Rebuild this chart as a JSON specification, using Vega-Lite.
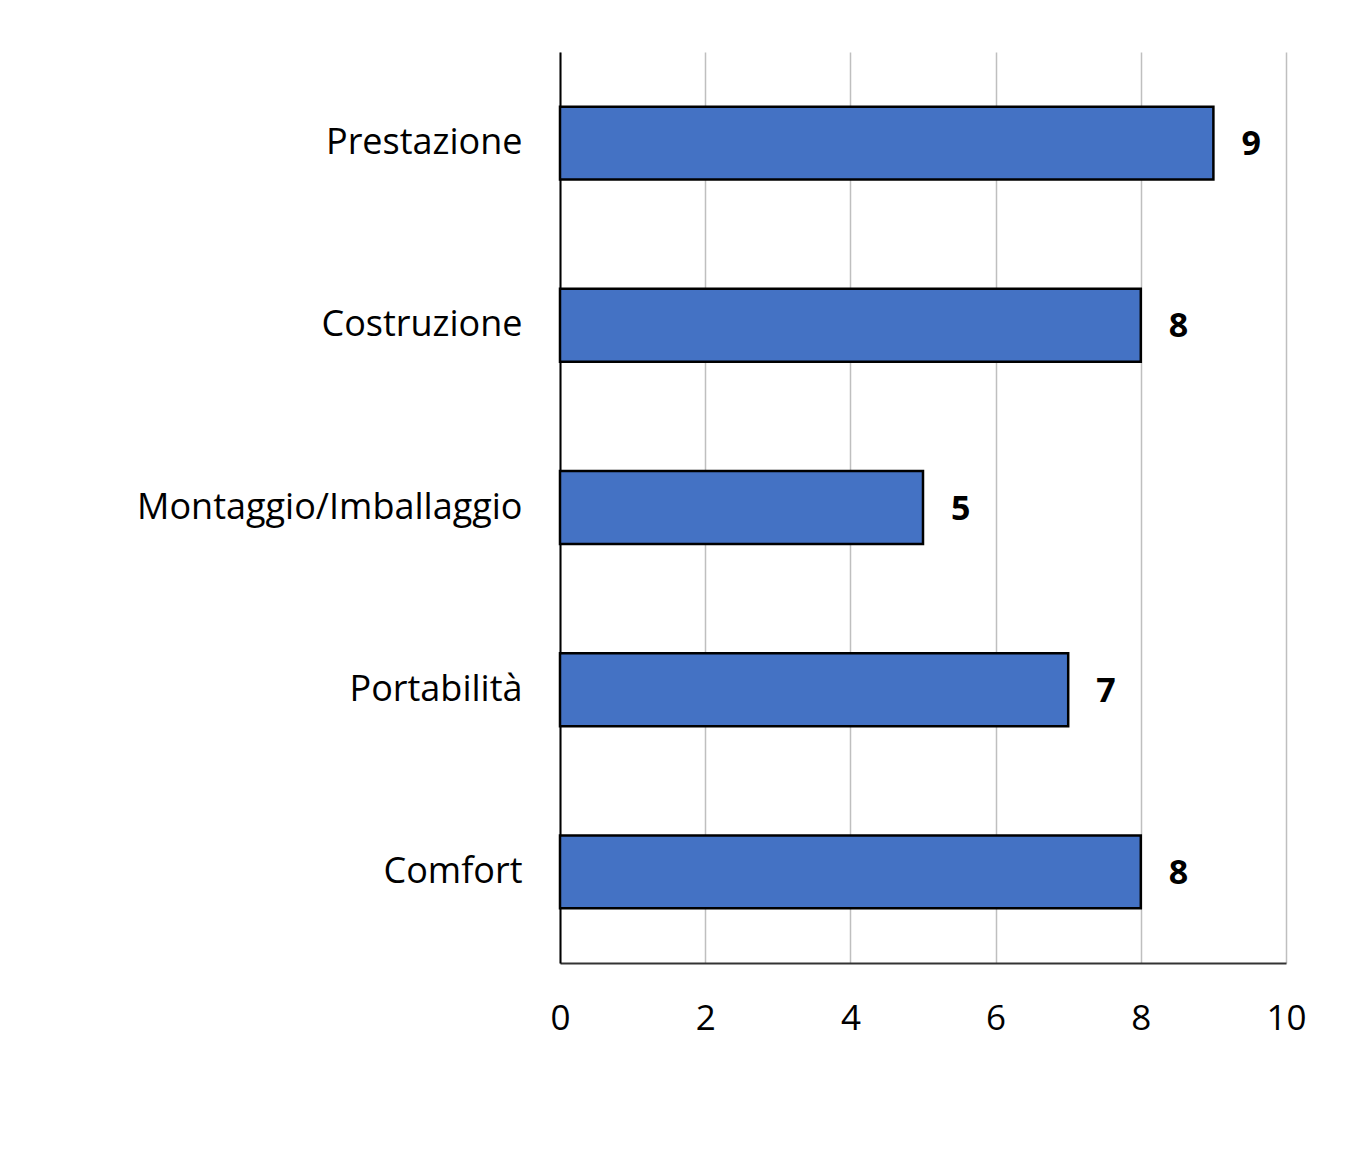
{
  "$schema": "https://vega.github.io/schema/vega-lite/v6.json",
  "width": 726,
  "height": 911,
  "autosize": {"type": "none"},
  "padding": {"left": 560, "top": 52, "right": 79, "bottom": 210},
  "background": "white",
  "config": {
    "font": "Open Sans",
    "view": {"stroke": null}
  },
  "data": {
    "values": [
      {"categoria": "Prestazione", "valore": 9},
      {"categoria": "Costruzione", "valore": 8},
      {"categoria": "Montaggio/Imballaggio", "valore": 5},
      {"categoria": "Portabilità", "valore": 7},
      {"categoria": "Comfort", "valore": 8}
    ]
  },
  "encoding": {
    "y": {
      "field": "categoria",
      "type": "nominal",
      "sort": null,
      "scale": {"paddingInner": 0.6, "paddingOuter": 0.3},
      "axis": {
        "title": null,
        "domain": true,
        "domainColor": "#000000",
        "domainWidth": 2,
        "ticks": false,
        "labelFontSize": 36,
        "labelColor": "#000000",
        "labelPadding": 38,
        "labelLimit": 600,
        "labelFont": "Open Sans"
      }
    },
    "x": {
      "field": "valore",
      "type": "quantitative",
      "scale": {"domain": [0, 10]},
      "axis": {
        "title": null,
        "values": [0, 2, 4, 6, 8, 10],
        "domainColor": "#333333",
        "domainWidth": 2,
        "ticks": false,
        "labelFlush": false,
        "gridColor": "#bfbfbf",
        "gridWidth": 1.5,
        "labelFontSize": 35,
        "labelColor": "#000000",
        "labelPadding": 38,
        "labelFont": "Open Sans"
      }
    }
  },
  "layer": [
    {
      "mark": {"type": "bar", "fill": "#4472C4", "stroke": "#000000", "strokeWidth": 2.5}
    },
    {
      "mark": {"type": "text", "align": "left", "baseline": "middle", "dx": 28, "dy": 2, "fontSize": 34, "fontWeight": "bold", "color": "#000000"},
      "encoding": {"text": {"field": "valore", "type": "quantitative"}}
    }
  ]
}
